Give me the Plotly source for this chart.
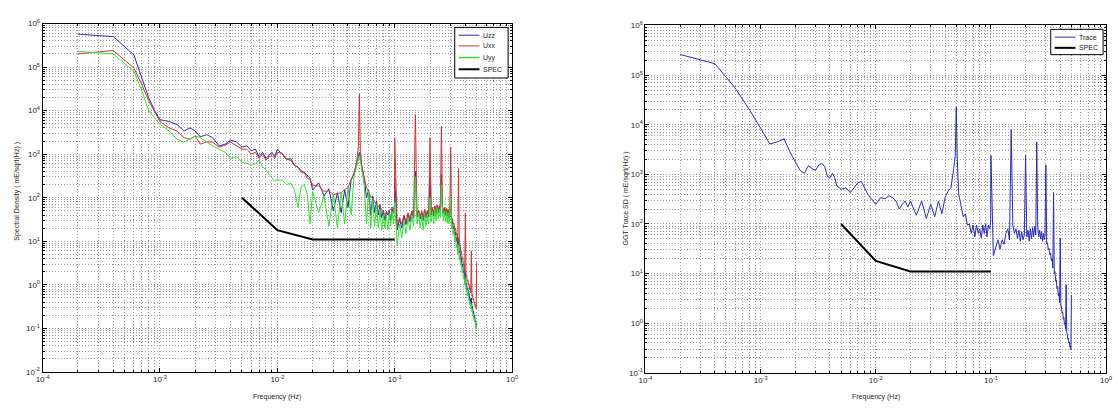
import plotly.graph_objects as go

W, H = 1118, 409

# ---- frequency grids (Hz) ----
freq_lo = [0.0002, 0.0004, 0.0006, 0.0007, 0.0008, 0.0009, 0.0010, 0.0012, 0.0014, 0.0016,
           0.0018, 0.0020, 0.0022, 0.0025, 0.0028, 0.0032, 0.0036, 0.0040, 0.0045, 0.0050,
           0.0055, 0.0060, 0.0065, 0.0070, 0.0075, 0.0080, 0.0085, 0.0090, 0.0095, 0.0100]

trace_freq_lo = [0.0002, 0.0004, 0.0006, 0.0008, 0.0010, 0.0012, 0.0014, 0.0016, 0.0018, 0.0020,
                 0.0022, 0.0024, 0.0026, 0.0028, 0.0030, 0.0032, 0.0034, 0.0036, 0.0038, 0.0040,
                 0.0042, 0.0044, 0.0046, 0.0048, 0.0050, 0.0055, 0.0060, 0.0065, 0.0070, 0.0075,
                 0.0080, 0.0085, 0.0090, 0.0095, 0.0100]

freq_mid = [0.011, 0.012, 0.013, 0.014, 0.015, 0.016, 0.017, 0.018, 0.019, 0.020,
            0.0225, 0.025, 0.0275, 0.030, 0.0325, 0.035, 0.0375, 0.040, 0.0425, 0.045, 0.0475,
            0.049, 0.050, 0.051,
            0.0525, 0.055, 0.0575, 0.060, 0.0625, 0.065, 0.0675, 0.070, 0.0725, 0.075,
            0.0775, 0.080, 0.0825, 0.085, 0.0875, 0.090, 0.0925, 0.095, 0.0975,
            0.0995]

freq_hi = [0.100, 0.105, 0.110, 0.115, 0.120, 0.125, 0.130, 0.135, 0.140, 0.145,
           0.150, 0.155, 0.160, 0.165, 0.170, 0.175, 0.180, 0.185, 0.190, 0.195,
           0.200, 0.205, 0.210, 0.215, 0.220, 0.225, 0.230, 0.235, 0.240, 0.245,
           0.250, 0.255, 0.260, 0.265, 0.270, 0.275, 0.280, 0.285, 0.290, 0.295,
           0.300, 0.305, 0.310, 0.315, 0.320, 0.325, 0.330, 0.335, 0.340, 0.345,
           0.350, 0.355, 0.360, 0.365, 0.370, 0.375, 0.380, 0.385, 0.390, 0.395,
           0.400, 0.405, 0.410, 0.415, 0.420, 0.425, 0.430, 0.435, 0.440, 0.445,
           0.450, 0.455, 0.460, 0.465, 0.470, 0.475, 0.480, 0.485, 0.490, 0.495,
           0.500]

# ---- gradiometer components (mE/sqrt(Hz)) ----
uzz_lo = [5.7e5, 5.0e5, 1.9e5, 5.6e4, 2.0e4, 1.0e4, 6.2e3, 5.6e3, 4.8e3, 3.4e3,
          4.0e3, 3.4e3, 2.5e3, 2.8e3, 2.4e3, 1.55e3, 1.7e3, 2.1e3, 1.9e3, 1.45e3,
          1.55e3, 1.2e3, 1.3e3, 870, 1.1e3, 800, 930, 1.1e3, 870, 1.3e3]
uzz_mid = [1000, 750, 800, 550, 500, 420, 380, 330, 280, 150,
           220, 110, 160, 50, 130, 45, 150, 60, 250, 350, 600,
           900, 1100, 800,
           500, 280, 100, 150, 40, 110, 45, 85, 40, 70, 35, 50, 30, 45, 40, 50, 30, 55, 45,
           60]
uzz_hi = [300,
          18, 32, 20, 38, 24, 42, 28, 48, 34,
          400,
          36, 50, 32, 46, 30, 52, 34, 48, 36,
          300,
          40, 56, 38, 62, 42, 66, 45, 62, 48,
          350,
          60, 44, 58, 40, 55, 38, 52, 34, 44,
          80,
          26, 30, 19, 22, 14, 16, 10, 12, 7.5,
          12,
          5.5, 6, 3.8, 4.2, 2.6, 3, 1.9, 2.1, 1.3,
          2.0,
          1.0, 1.1, 0.75, 0.85, 0.6, 0.65, 0.45, 0.5, 0.36,
          0.5,
          0.3, 0.32, 0.22, 0.25, 0.17, 0.2, 0.14, 0.15, 0.1,
          0.13]

uxx_lo = [2.0e5, 2.4e5, 9.5e4, 4.0e4, 1.7e4, 9.3e3, 5.6e3, 4.0e3, 3.4e3, 2.4e3,
          2.2e3, 2.6e3, 1.7e3, 1.9e3, 1.9e3, 1.45e3, 1.6e3, 1.9e3, 1.55e3, 1.3e3,
          1.3e3, 1.0e3, 1.1e3, 800, 1.0e3, 730, 870, 930, 800, 1.1e3]
uxx_mid = [1050, 780, 720, 560, 500, 380, 370, 280, 260, 190,
           185, 140, 145, 118, 125, 130, 155, 170, 260, 370, 650,
           1500, 24000, 1200,
           500, 300, 170, 135, 105, 98, 78, 76, 62, 62, 52, 47, 41, 49, 43, 52, 53, 61, 54,
           65]
uxx_hi = [2400,
          22, 35, 25, 40, 28, 45, 32, 50, 38,
          8000,
          40, 52, 36, 50, 34, 55, 38, 52, 40,
          2400,
          45, 60, 42, 65, 46, 68, 50, 66, 52,
          4400,
          62, 48, 60, 45, 58, 42, 55, 40, 48,
          1450,
          32, 34, 24, 26, 18, 20, 14, 15, 10,
          470,
          8, 8.5, 5.5, 6, 4, 4.2, 2.8, 3, 2.0,
          44,
          1.6, 1.7, 1.2, 1.3, 1.0, 1.0, 0.8, 0.85, 0.65,
          6,
          0.55, 0.6, 0.45, 0.48, 0.38, 0.4, 0.32, 0.35, 0.28,
          3.3]

uyy_lo = [2.3e5, 2.0e5, 8.0e4, 2.9e4, 1.0e4, 6.7e3, 4.8e3, 3.4e3, 2.2e3, 1.9e3,
          2.2e3, 2.6e3, 2.4e3, 1.9e3, 1.55e3, 1.3e3, 1.1e3, 800, 870, 660,
          600, 560, 600, 730, 510, 440, 340, 280, 240, 260]
uyy_mid = [250, 200, 220, 150, 60, 180, 200, 120, 25, 140,
           45, 110, 22, 120, 20, 130, 25, 180, 40, 300, 550,
           800, 950, 700,
           400, 200, 25, 140, 20, 90, 22, 70, 20, 55, 18, 40, 20, 40, 18, 45, 22, 50, 25,
           55]
uyy_hi = [80,
          8, 25, 12, 30, 15, 35, 18, 40, 22,
          300,
          25, 45, 20, 40, 18, 45, 22, 42, 25,
          100,
          28, 50, 25, 55, 30, 60, 32, 55, 35,
          200,
          50, 30, 50, 28, 48, 26, 45, 25, 38,
          100,
          20, 25, 14, 18, 10, 13, 7, 9, 5,
          8,
          3.8, 4.5, 2.8, 3.2, 1.9, 2.2, 1.4, 1.6, 1.0,
          1.4,
          0.75, 0.85, 0.55, 0.65, 0.45, 0.5, 0.35, 0.4, 0.28,
          0.35,
          0.24, 0.26, 0.19, 0.21, 0.15, 0.17, 0.13, 0.14, 0.1,
          0.12]

# ---- GGT trace ----
trace_lo = [2.6e5, 1.7e5, 5.5e4, 2.0e4, 8.5e3, 4.1e3, 4.5e3, 5.2e3, 2.8e3, 1.8e3,
            1.2e3, 1.05e3, 1.5e3, 1.3e3, 1.2e3, 1.55e3, 1.65e3, 1.45e3, 910, 850,
            1.05e3, 850, 580, 540, 500, 540, 430, 540, 680, 720,
            540, 400, 340, 290, 250]
trace_mid = [340, 320, 370, 340, 290, 200, 250, 290, 220, 290,
             150, 290, 130, 250, 140, 290, 160, 340, 460, 540, 1300,
             2400, 23000, 2000,
             400, 230, 140, 160, 95, 100, 65, 95, 55, 95, 65, 80, 52, 95, 65, 100, 55, 95, 80,
             110]
trace_hi = [2400,
            23, 35, 48, 31, 48, 39, 65, 80, 48,
            8000,
            95, 65, 80, 50, 75, 45, 70, 48, 60,
            2400,
            55, 75, 45, 80, 50, 85, 55, 90, 60,
            4500,
            85, 55, 75, 50, 70, 45, 65, 48, 58,
            1550,
            40, 42, 30, 32, 24, 26, 18, 20, 13,
            430,
            10, 11, 7, 7.5, 5, 5.5, 3.6, 4, 2.6,
            52,
            2.2, 2.2, 1.6, 1.7, 1.2, 1.3, 0.95, 1.0, 0.75,
            6,
            0.65, 0.6, 0.48, 0.5, 0.4, 0.42, 0.33, 0.35, 0.29,
            3.7]

# ---- requirement line ----
spec_freq = [0.005, 0.01, 0.02, 0.1]
spec_val = [100, 18, 11, 11]

x_tick_vals = [1e-4, 1e-3, 1e-2, 1e-1, 1e0]
x_tick_text = ["10<sup>-4</sup>", "10<sup>-3</sup>", "10<sup>-2</sup>", "10<sup>-1</sup>", "10<sup>0</sup>"]
y_tick_vals_left = [1e-2, 1e-1, 1e0, 1e1, 1e2, 1e3, 1e4, 1e5, 1e6]
y_tick_text_left = ["10<sup>-2</sup>", "10<sup>-1</sup>", "10<sup>0</sup>", "10<sup>1</sup>", "10<sup>2</sup>",
                    "10<sup>3</sup>", "10<sup>4</sup>", "10<sup>5</sup>", "10<sup>6</sup>"]
y_tick_vals_right = y_tick_vals_left[1:]
y_tick_text_right = y_tick_text_left[1:]

BLUE = "#2b2ba6"
RED = "#cc3333"
GREEN = "#33e033"
TRACE_BLUE = "#2a2ab8"
FONT = "Liberation Sans, Arial, sans-serif"
TEXT = "#262626"
GRID = "#9a9a9a"
GRID_DASH = "1px,2px"

fig = go.Figure()

left_x = freq_lo + freq_mid + freq_hi
for yvals, color in [(uzz_lo + uzz_mid + uzz_hi, BLUE),
                     (uxx_lo + uxx_mid + uxx_hi, RED),
                     (uyy_lo + uyy_mid + uyy_hi, GREEN)]:
    fig.add_trace(go.Scatter(x=left_x, y=yvals, mode="lines",
                             line=dict(color=color, width=1),
                             xaxis="x", yaxis="y", showlegend=False))
fig.add_trace(go.Scatter(x=spec_freq, y=spec_val, mode="lines",
                         line=dict(color="black", width=2),
                         xaxis="x", yaxis="y", showlegend=False))

fig.add_trace(go.Scatter(x=trace_freq_lo + freq_mid + freq_hi,
                         y=trace_lo + trace_mid + trace_hi, mode="lines",
                         line=dict(color=TRACE_BLUE, width=1),
                         xaxis="x2", yaxis="y2", showlegend=False))
fig.add_trace(go.Scatter(x=spec_freq, y=spec_val, mode="lines",
                         line=dict(color="black", width=2),
                         xaxis="x2", yaxis="y2", showlegend=False))


def minor_vals(lo, hi):
    return [k * 10.0 ** e for e in range(lo, hi) for k in range(2, 10)]


def log_axis(rng, tickvals, ticktext, minor, domain, anchor):
    return dict(
        type="log", range=rng, domain=domain, anchor=anchor,
        tickmode="array", tickvals=tickvals, ticktext=ticktext,
        showline=True, linecolor="black", linewidth=1, mirror="ticks",
        ticks="inside", ticklen=4, tickcolor="black",
        showgrid=True, gridcolor=GRID, griddash=GRID_DASH, gridwidth=1,
        zeroline=False, tickfont=dict(family=FONT, size=8, color=TEXT),
        minor=dict(tickmode="array", tickvals=minor, ticks="inside", ticklen=2,
                   tickcolor="black", showgrid=True, gridcolor=GRID,
                   griddash=GRID_DASH, gridwidth=1),
    )


def px(x):
    return x / W


def py(y):
    return 1 - y / H


fig.update_layout(
    width=W, height=H,
    margin=dict(l=0, r=0, t=0, b=0),
    paper_bgcolor="white", plot_bgcolor="white",
    font=dict(family=FONT, color=TEXT),
    xaxis=log_axis([-4, 0], x_tick_vals, x_tick_text, minor_vals(-4, 0),
                   [px(36), px(511)], "y"),
    yaxis=log_axis([-2, 6], y_tick_vals_left, y_tick_text_left, minor_vals(-2, 6),
                   [py(376), py(18)], "x"),
    xaxis2=log_axis([-4, 0], x_tick_vals, x_tick_text, minor_vals(-4, 0),
                    [px(646), px(1112)], "y2"),
    yaxis2=log_axis([-1, 6], y_tick_vals_right, y_tick_text_right, minor_vals(-1, 6),
                    [py(377), py(20)], "x2"),
)

shapes = []
annotations = []


def add_legend(box, entries):
    x0, y0, x1, y1 = box
    shapes.append(dict(type="rect", xref="paper", yref="paper",
                       x0=px(x0), x1=px(x1), y0=py(y1), y1=py(y0),
                       fillcolor="white", line=dict(color="black", width=1)))
    for (label, color, width, yy) in entries:
        shapes.append(dict(type="line", xref="paper", yref="paper",
                           x0=px(x0 + 4), x1=px(x0 + 25), y0=py(yy), y1=py(yy),
                           line=dict(color=color, width=width)))
        annotations.append(dict(text=label, xref="paper", yref="paper",
                                x=px(x0 + 27), y=py(yy), xanchor="left", yanchor="middle",
                                showarrow=False, font=dict(family=FONT, size=7, color=TEXT)))


add_legend((453, 22, 507, 74), [("Uzz", BLUE, 1, 30), ("Uxx", RED, 1, 41),
                                ("Uyy", GREEN, 1.5, 53), ("SPEC", "black", 2, 65)])
add_legend((1056, 24, 1109, 50), [("Trace", TRACE_BLUE, 1, 32), ("SPEC", "black", 2, 43)])

for xc, label in [(273, "Frequency (Hz)"), (879, "Frequency (Hz)")]:
    annotations.append(dict(text=label, xref="paper", yref="paper", x=px(xc), y=py(402),
                            xanchor="center", yanchor="middle", showarrow=False,
                            font=dict(family=FONT, size=7, color=TEXT)))

annotations.append(dict(text="Spectral Density ( mE/sqrt(Hz) )", xref="paper", yref="paper",
                        x=px(10), y=py(190), textangle=-90, xanchor="center", yanchor="middle",
                        showarrow=False, font=dict(family=FONT, size=7, color=TEXT)))
annotations.append(dict(text="GGT Trace SD ( mE/sqrt(Hz) )", xref="paper", yref="paper",
                        x=px(626), y=py(198), textangle=-90, xanchor="center", yanchor="middle",
                        showarrow=False, font=dict(family=FONT, size=7, color=TEXT)))

fig.update_layout(shapes=shapes, annotations=annotations)

fig.write_html("out.html")
